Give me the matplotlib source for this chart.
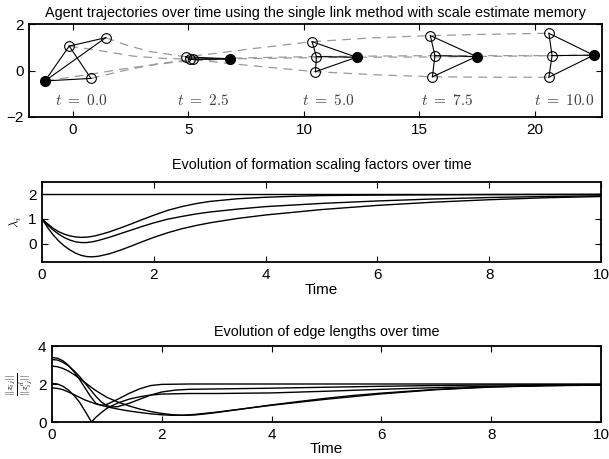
import matplotlib
matplotlib.use("Agg")
import matplotlib.pyplot as plt
import numpy as np

plt.rcParams['font.family'] = ['Liberation Sans', 'DejaVu Sans']
plt.rcParams['mathtext.fontset'] = 'cm'

# ---------------- data: formation snapshots ----------------
snap_times = [0.0, 2.5, 5.0, 7.5, 10.0]
leader_x = [-1.21, 6.80, 12.28, 17.47, 22.54]
leader_y = [-0.45, 0.50, 0.57, 0.60, 0.66]
agentA_x = [-0.16, 5.07, 10.54, 15.67, 20.74]
agentA_y = [1.05, 0.49, 0.60, 0.64, 0.64]
agentB_x = [1.42, 4.88, 10.35, 15.47, 20.60]
agentB_y = [1.41, 0.59, 1.24, 1.50, 1.60]
agentC_x = [0.78, 5.18, 10.50, 15.56, 20.60]
agentC_y = [-0.34, 0.48, -0.05, -0.27, -0.29]
# edges: 0 = leader, 1 = A, 2 = B, 3 = C
edges = [(0, 1), (0, 2), (0, 3), (1, 2), (1, 3)]

# trajectories (read from the dashed paths)
trajL_x = [-1.21, 0.5, 2.5, 4.6, 6.8, 9.5, 12.28, 14.9, 17.47, 20.0, 22.54]
trajL_y = [-0.45, -0.2, 0.12, 0.38, 0.50, 0.54, 0.57, 0.58, 0.60, 0.63, 0.66]
trajA_x = [-0.16, 1.2, 2.6, 3.9, 5.07, 7.8, 10.54, 13.1, 15.67, 18.2, 20.74]
trajA_y = [1.05, 0.85, 0.62, 0.52, 0.49, 0.55, 0.60, 0.62, 0.64, 0.64, 0.64]
trajB_x = [1.42, 2.3, 3.3, 4.88, 6.3, 7.6, 10.35, 12.9, 15.47, 18.0, 20.6]
trajB_y = [1.41, 1.10, 0.82, 0.59, 0.75, 0.92, 1.24, 1.40, 1.50, 1.56, 1.60]
trajC_x = [0.78, 2.0, 3.6, 5.18, 6.5, 7.8, 10.5, 13.0, 15.56, 18.1, 20.6]
trajC_y = [-0.34, -0.05, 0.28, 0.48, 0.33, 0.20, -0.05, -0.18, -0.27, -0.29, -0.29]

# ---------------- data: scaling factors ----------------
lam_t_up = [0, 0.1, 0.2, 0.3, 0.4, 0.5, 0.6, 0.7, 0.8, 0.9, 1.0, 1.2, 1.4, 1.6, 1.8, 2.0,
            2.25, 2.5, 2.75, 3.0, 3.5, 4.0, 4.5, 5.0, 6.0, 8.0, 10.0]
lam_up = [1.0, 0.80, 0.62, 0.48, 0.38, 0.31, 0.27, 0.25, 0.26, 0.29, 0.34, 0.47, 0.63, 0.80, 0.98, 1.15,
          1.35, 1.50, 1.62, 1.71, 1.82, 1.88, 1.92, 1.95, 1.97, 1.99, 2.0]
lam_t_mid = [0, 0.1, 0.2, 0.3, 0.4, 0.5, 0.6, 0.7, 0.8, 0.9, 1.0, 1.2, 1.4, 1.6, 1.8, 2.0,
             2.25, 2.5, 2.75, 3.0, 3.5, 4.0, 5.0, 6.0, 7.0, 8.0, 9.0, 10.0]
lam_mid = [1.0, 0.75, 0.55, 0.38, 0.24, 0.14, 0.07, 0.04, 0.04, 0.07, 0.12, 0.25, 0.40, 0.55, 0.70, 0.84,
           0.99, 1.10, 1.20, 1.28, 1.40, 1.50, 1.63, 1.73, 1.81, 1.87, 1.91, 1.94]
lam_t_low = [0, 0.1, 0.2, 0.3, 0.4, 0.5, 0.6, 0.7, 0.8, 0.9, 1.0, 1.2, 1.4, 1.6, 1.8, 2.0,
             2.25, 2.5, 2.75, 3.0, 3.5, 4.0, 5.0, 6.0, 7.0, 8.0, 9.0, 10.0]
lam_low = [1.0, 0.65, 0.35, 0.10, -0.10, -0.26, -0.39, -0.48, -0.53, -0.54, -0.52, -0.42, -0.27, -0.10, 0.08, 0.25,
           0.44, 0.60, 0.73, 0.84, 1.02, 1.16, 1.38, 1.55, 1.68, 1.78, 1.86, 1.91]
lam_t_lead = [0, 10]
lam_lead = [2.0, 2.0]

# ---------------- data: edge lengths ----------------
e1_t = [0, 0.1, 0.2, 0.3, 0.4, 0.5, 0.6, 0.7, 0.8, 0.9, 1.0, 1.2, 1.4, 1.6, 1.8, 2.0, 2.5, 10.0]
e1 = [3.39, 3.36, 3.22, 2.98, 2.65, 2.25, 1.80, 1.35, 0.98, 0.88, 0.93, 1.20, 1.50, 1.75, 1.92, 1.98, 2.0, 2.0]
e2_t = [0, 0.1, 0.2, 0.3, 0.4, 0.5, 0.6, 0.7, 0.8, 0.9, 1.0, 1.1, 1.2, 1.4, 1.6, 1.8, 2.0,
        2.25, 2.5, 3.0, 4.0, 5.0, 6.0, 7.0, 8.0, 10.0]
e2 = [3.29, 3.26, 3.14, 2.95, 2.70, 2.40, 2.05, 1.70, 1.35, 1.05, 0.86, 0.79, 0.81, 0.98, 1.20, 1.42, 1.58,
      1.68, 1.72, 1.74, 1.78, 1.83, 1.88, 1.92, 1.95, 1.97]
e3_t = [0, 0.1, 0.2, 0.3, 0.4, 0.5, 0.6, 0.7, 0.8, 1.0, 1.2, 1.4, 1.6, 1.8, 2.0, 2.2, 2.4, 2.6,
        2.8, 3.0, 3.5, 4.0, 4.5, 5.0, 5.5, 6.0, 7.0, 8.0, 9.0, 10.0]
e3 = [2.94, 2.91, 2.82, 2.68, 2.50, 2.30, 2.08, 1.86, 1.65, 1.30, 1.05, 0.85, 0.68, 0.55, 0.45, 0.38, 0.35, 0.37,
      0.43, 0.50, 0.70, 0.90, 1.08, 1.25, 1.40, 1.52, 1.72, 1.85, 1.92, 1.95]
e4_t = [0, 0.1, 0.2, 0.3, 0.4, 0.5, 0.6, 0.72, 0.8, 0.9, 1.0, 1.2, 1.4, 1.6, 1.8, 2.0,
        2.5, 3.0, 4.0, 5.0, 6.0, 7.0, 8.0, 9.0, 10.0]
e4 = [2.03, 2.00, 1.88, 1.68, 1.40, 1.05, 0.58, 0.0, 0.25, 0.50, 0.72, 1.00, 1.20, 1.33, 1.42, 1.47,
      1.50, 1.50, 1.53, 1.62, 1.72, 1.81, 1.88, 1.92, 1.95]
e5_t = [0, 0.1, 0.2, 0.3, 0.4, 0.5, 0.6, 0.8, 1.0, 1.2, 1.4, 1.6, 1.8, 2.0, 2.2, 2.4, 2.6,
        3.0, 3.5, 4.0, 5.0, 6.0, 7.0, 8.0, 9.0, 10.0]
e5 = [1.80, 1.77, 1.70, 1.58, 1.44, 1.30, 1.16, 0.95, 0.80, 0.68, 0.58, 0.50, 0.43, 0.38, 0.35, 0.36, 0.40,
      0.52, 0.70, 0.88, 1.20, 1.48, 1.70, 1.84, 1.91, 1.94]

# ---------------- figure ----------------
W, H = 609, 459
fig = plt.figure(figsize=(W / 100, H / 100), dpi=100)

def rect(l, r, t, b):
    return [l / W, (H - b) / H, (r - l) / W, (b - t) / H]

def style(ax):
    ax.tick_params(direction='in', top=True, right=True, length=4, width=0.8,
                   labelsize=11, pad=4)
    for s in ax.spines.values():
        s.set_linewidth(1.3)

TITLE_FS = 10.4

# ---- top: trajectories ----
ax1 = fig.add_axes(rect(29, 602, 24, 117))
for tx, ty in [(trajL_x, trajL_y), (trajA_x, trajA_y), (trajB_x, trajB_y), (trajC_x, trajC_y)]:
    ax1.plot(tx, ty, ls=(0, (7, 5)), color='0.6', lw=0.9, zorder=1)
for k, t in enumerate(snap_times):
    px = [leader_x[k], agentA_x[k], agentB_x[k], agentC_x[k]]
    py = [leader_y[k], agentA_y[k], agentB_y[k], agentC_y[k]]
    for i, j in edges:
        ax1.plot([px[i], px[j]], [py[i], py[j]], color='k', lw=0.8, zorder=2)
    ax1.plot(px[1:], py[1:], 'o', ms=7, mfc='none', mec='k', mew=0.8, zorder=3)
    ax1.plot(px[0], py[0], 'o', ms=7, color='k', zorder=3)
    ax1.text(np.mean(px) + 0.15, -1.3, r'$t\ =\ %.1f$' % t, ha='center', va='center',
             fontsize=11, color='0.25')
ax1.set_xlim(-1.9, 22.9)
ax1.set_ylim(-2, 2)
ax1.set_xticks([0, 5, 10, 15, 20])
ax1.set_yticks([-2, 0, 2])
style(ax1)
ax1.set_title('Agent trajectories over time using the single link method with scale estimate memory',
              fontsize=TITLE_FS, pad=5)

# ---- middle: scaling factors ----
ax2 = fig.add_axes(rect(42, 601, 182, 262))
for tt, vv in [(lam_t_lead, lam_lead), (lam_t_up, lam_up), (lam_t_mid, lam_mid), (lam_t_low, lam_low)]:
    ax2.plot(tt, vv, color='k', lw=1.0)
ax2.set_xlim(0, 10)
ax2.set_ylim(-0.75, 2.5)
ax2.set_xticks([0, 2, 4, 6, 8, 10])
ax2.set_yticks([0, 1, 2])
style(ax2)
ax2.set_xlabel('Time', fontsize=11, labelpad=1)
ax2.set_ylabel(r'$\lambda_i$', fontsize=9, labelpad=3)
ax2.set_title('Evolution of formation scaling factors over time', fontsize=TITLE_FS, pad=9)

# ---- bottom: edge lengths ----
ax3 = fig.add_axes(rect(52, 601, 346, 422))
for tt, vv in [(e1_t, e1), (e2_t, e2), (e3_t, e3), (e4_t, e4), (e5_t, e5)]:
    ax3.plot(tt, vv, color='k', lw=1.0)
ax3.set_xlim(0, 10)
ax3.set_ylim(0, 4)
ax3.set_xticks([0, 2, 4, 6, 8, 10])
ax3.set_yticks([0, 2, 4])
style(ax3)
ax3.set_xlabel('Time', fontsize=11, labelpad=0)
ax3.set_ylabel(r'$\frac{||z_{ij}||}{||z_{ij}^d||}$', fontsize=10, labelpad=3)
ax3.set_title('Evolution of edge lengths over time', fontsize=TITLE_FS, pad=7)

fig.savefig('out.png', dpi=100)
